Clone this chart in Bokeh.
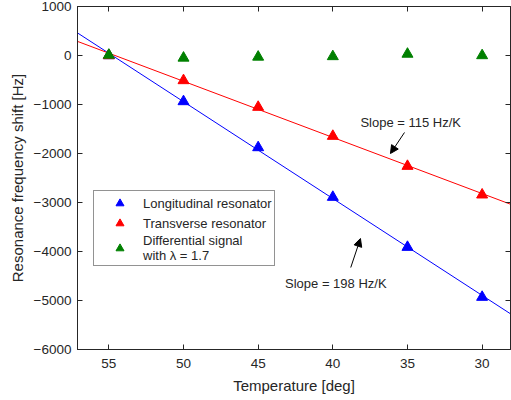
import numpy as np
from bokeh.plotting import figure
from bokeh.models import (Range1d, LinearAxis, FixedTicker, Legend, LegendItem,
                          Arrow, NormalHead, Label)
from bokeh.embed import file_html
from bokeh.resources import INLINE

# ---------------- data ----------------
temperature = [55, 50, 45, 40, 35, 30]
longitudinal = [0, -939, -1878, -2891, -3912, -4932]
transverse = [0, -510, -1054, -1646, -2259, -2843]
differential = [10, -50, -30, -20, 30, 0]

x_ticks = [55, 50, 45, 40, 35, 30]
y_ticks = [-6000, -5000, -4000, -3000, -2000, -1000, 0, 1000]
x_limits = (57.1, 28.1)
y_limits = (-6000, 1000)

series_names = ["Longitudinal resonator", "Transverse resonator",
                "Differential signal\nwith \u03bb = 1.7"]
series_colors = ["#0000ff", "#ff0000", "#008000"]

slope_labels = ["Slope = 115 Hz/K", "Slope = 198 Hz/K"]
slope_label_x = [38.15, 43.2]
slope_label_y = [-1367, -4647]
arrow_tail_x = [35.2, 38.8]
arrow_tail_y = [-1571, -4327]
arrow_head_x = [36.14, 38.15]
arrow_head_y = [-2000, -3735]

FONT = "Liberation Sans"
TXT = "#262626"
AX = "#262626"

p = figure(width=511, height=400, output_backend="svg", toolbar_location=None,
           x_range=Range1d(*x_limits), y_range=Range1d(*y_limits),
           min_border_left=77, min_border_right=1, min_border_top=6,
           min_border_bottom=51)
p.xgrid.visible = False
p.ygrid.visible = False
p.outline_line_color = AX
p.background_fill_color = "white"
p.border_fill_color = "white"

p.xaxis.ticker = FixedTicker(ticks=x_ticks)
p.yaxis.ticker = FixedTicker(ticks=y_ticks)
p.xaxis.axis_label = "Temperature [deg]"
p.yaxis.axis_label = "Resonance frequency shift [Hz]"
p.xaxis.major_label_standoff = 9
p.yaxis.major_label_standoff = 6
p.xaxis.axis_label_standoff = 6
p.yaxis.axis_label_standoff = 5

for ax in [p.xaxis[0], p.yaxis[0]]:
    ax.axis_line_color = AX
    ax.major_tick_line_color = AX
    ax.major_tick_in = 5
    ax.major_tick_out = 0
    ax.minor_tick_line_color = None
    ax.major_label_text_font = FONT
    ax.major_label_text_font_size = "13.5px"
    ax.major_label_text_color = TXT
    ax.axis_label_text_font = FONT
    ax.axis_label_text_font_size = "15px"
    ax.axis_label_text_font_style = "normal"
    ax.axis_label_text_color = TXT

top_axis = LinearAxis(ticker=FixedTicker(ticks=x_ticks),
                      major_label_overrides={t: "" for t in x_ticks},
                      major_label_standoff=0, major_tick_in=5, major_tick_out=0,
                      minor_tick_line_color=None, axis_line_color=AX,
                      major_tick_line_color=AX)
right_axis = LinearAxis(ticker=FixedTicker(ticks=y_ticks),
                        major_label_overrides={t: "" for t in y_ticks},
                        major_label_standoff=0, major_tick_in=5, major_tick_out=0,
                        minor_tick_line_color=None, axis_line_color=AX,
                        major_tick_line_color=AX)
p.add_layout(top_axis, "above")
p.add_layout(right_axis, "right")

# fitted lines
x_fit = np.array(x_limits)
for vals, col in [(longitudinal, series_colors[0]), (transverse, series_colors[1])]:
    coef = np.polyfit(temperature, vals, 1)
    p.line(x_fit, np.polyval(coef, x_fit), line_color=col, line_width=1)

renderers = []
for vals, col in zip([longitudinal, transverse, differential], series_colors):
    r = p.scatter(temperature, vals, marker="triangle", size=11,
                  fill_color=col, line_color=col)
    renderers.append(r)

legend = Legend(items=[LegendItem(label=n, renderers=[r]) for n, r in zip(series_names, renderers)],
                location=(16, 83))
legend.border_line_color = AX
legend.border_line_width = 1
legend.background_fill_color = "white"
legend.background_fill_alpha = 1
legend.label_text_font = FONT
legend.label_text_font_size = "13px"
legend.label_text_color = TXT
legend.label_text_line_height = 1.35
legend.padding = 2
legend.spacing = 0
legend.margin = 0
legend.glyph_width = 47
legend.glyph_height = 20
legend.label_height = 14
legend.label_standoff = 0
p.add_layout(legend)

for t, lx, ly in zip(slope_labels, slope_label_x, slope_label_y):
    p.add_layout(Label(x=lx, y=ly, text=t, text_font=FONT, text_font_size="13px",
                       text_color=TXT, text_align="left", text_baseline="middle"))
for tx, ty, hx, hy in zip(arrow_tail_x, arrow_tail_y, arrow_head_x, arrow_head_y):
    p.add_layout(Arrow(end=NormalHead(size=8, fill_color="black", line_color="black", line_width=1),
                       x_start=tx, y_start=ty, x_end=hx, y_end=hy,
                       line_color="black", line_width=1))

open("out.html", "w").write(file_html(p, INLINE))
